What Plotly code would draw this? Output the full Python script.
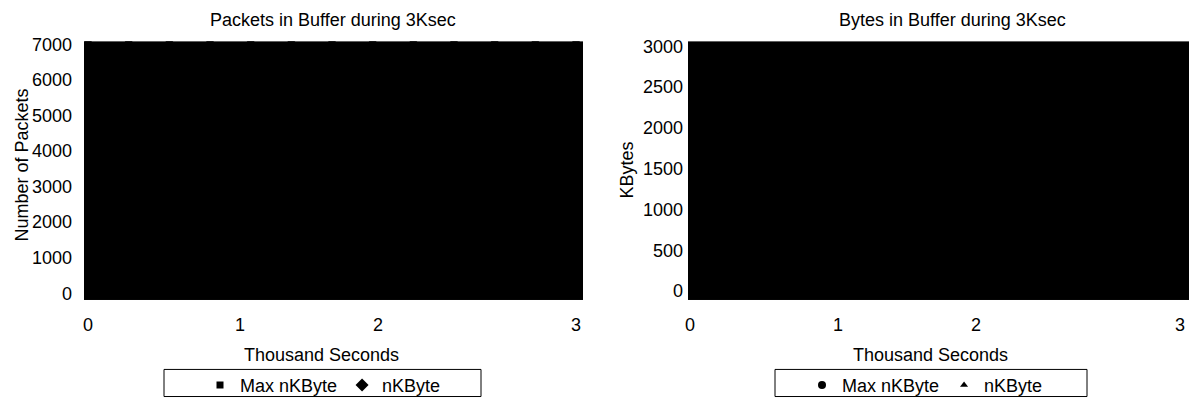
import plotly.graph_objects as go

# ---- data (the plotted points cover the whole area) ----
time_ks = [0.0, 0.25, 0.5, 0.75, 1.0, 1.25, 1.5, 1.75, 2.0, 2.25, 2.5, 2.75, 3.0]
packets_max = [7000, 7000, 7000, 7000, 7000, 7000, 7000, 7000, 7000, 7000, 7000, 7000, 7000]
packets_n = [7000, 7000, 7000, 7000, 7000, 7000, 7000, 7000, 7000, 7000, 7000, 7000, 7000]
kbytes_max = [3000, 3000, 3000, 3000, 3000, 3000, 3000, 3000, 3000, 3000, 3000, 3000, 3000]
kbytes_n = [3000, 3000, 3000, 3000, 3000, 3000, 3000, 3000, 3000, 3000, 3000, 3000, 3000]

x_tick_labels = ["0", "1", "2", "3"]
x_tick_pos_left = [0, 0.934, 1.783, 3]
x_tick_pos_right = [0, 0.906, 1.751, 3]
packets_ticks = [0, 1000, 2000, 3000, 4000, 5000, 6000, 7000]
kbytes_ticks = [0, 500, 1000, 1500, 2000, 2500, 3000]

W, H = 1197, 404
FONT = "Liberation Sans"
FS_TICK = 18
FS_TXT = 18

def px(x):
    return x / W

def py(y):
    return 1 - y / H

fig = go.Figure()

# marker series (for legends)
fig.add_trace(go.Scatter(x=time_ks, y=packets_max, xaxis="x", yaxis="y", mode="markers",
                         name="Max nKByte", legend="legend", cliponaxis=True,
                         marker=dict(symbol="square", size=7, color="black")))
fig.add_trace(go.Scatter(x=time_ks, y=packets_n, xaxis="x", yaxis="y", mode="markers",
                         name="nKByte", legend="legend", cliponaxis=True,
                         marker=dict(symbol="diamond", size=10, color="black")))
fig.add_trace(go.Scatter(x=time_ks, y=kbytes_max, xaxis="x2", yaxis="y2", mode="markers",
                         name="Max nKByte", legend="legend2", cliponaxis=True,
                         marker=dict(symbol="circle", size=8, color="black")))
fig.add_trace(go.Scatter(x=time_ks, y=kbytes_n, xaxis="x2", yaxis="y2", mode="markers",
                         name="nKByte", legend="legend2", cliponaxis=True,
                         marker=dict(symbol="triangle-up", size=7, color="black")))

# filled areas (data envelope)
for xs, ys, xa, ya in [
    (time_ks, packets_max, "x", "y"),
    (time_ks, packets_n, "x", "y"),
    (time_ks, kbytes_max, "x2", "y2"),
    (time_ks, kbytes_n, "x2", "y2"),
]:
    fig.add_trace(go.Scatter(x=xs, y=ys, xaxis=xa, yaxis=ya, mode="lines",
                             line=dict(color="black", width=0), fill="tozeroy",
                             fillcolor="black", showlegend=False, hoverinfo="skip"))

axis_common = dict(showgrid=False, zeroline=False, showline=False, ticks="", automargin=False,
                   tickfont=dict(family=FONT, size=FS_TICK, color="black"))

ydom = [py(304.5), py(42)]

fig.update_layout(
    width=W, height=H,
    margin=dict(l=0, r=0, t=0, b=0, pad=0),
    paper_bgcolor="white",
    plot_bgcolor="black",
    font=dict(family=FONT, size=FS_TXT, color="black"),
    xaxis=dict(domain=[px(84), px(583)], range=[-0.0246, 3.043], anchor="y",
               tickvals=x_tick_pos_left, ticktext=x_tick_labels,
               ticklabelstandoff=12, **axis_common),
    yaxis=dict(domain=ydom, range=[-190, 7085], anchor="x",
               tickvals=packets_ticks, ticklabelstandoff=11, **axis_common),
    xaxis2=dict(domain=[px(688), px(1189)], range=[-0.0122, 3.055], anchor="y2",
                tickvals=x_tick_pos_right, ticktext=x_tick_labels,
                ticklabelstandoff=12, **axis_common),
    yaxis2=dict(domain=ydom, range=[-108, 3060], anchor="x2",
                tickvals=kbytes_ticks, ticklabelstandoff=4, **axis_common),
    legend=dict(orientation="h", x=px(323), xanchor="center", y=py(391), yanchor="middle",
                bgcolor="rgba(0,0,0,0)", borderwidth=0, itemwidth=30,
                font=dict(family=FONT, size=FS_TXT, color="black")),
    legend2=dict(orientation="h", x=px(925), xanchor="center", y=py(391), yanchor="middle",
                 bgcolor="rgba(0,0,0,0)", borderwidth=0, itemwidth=30,
                 font=dict(family=FONT, size=FS_TXT, color="black")),
    shapes=[
        dict(type="rect", xref="paper", yref="paper", x0=px(164), x1=px(481),
             y0=py(402.5), y1=py(375), line=dict(color="black", width=1)),
        dict(type="rect", xref="paper", yref="paper", x0=px(775), x1=px(1087),
             y0=py(402.5), y1=py(375), line=dict(color="black", width=1)),
    ],
    annotations=[
        dict(text="Packets in Buffer during 3Ksec", x=px(333), y=py(20), xref="paper", yref="paper",
             showarrow=False, xanchor="center", yanchor="middle"),
        dict(text="Bytes in Buffer during 3Ksec", x=px(952), y=py(20), xref="paper", yref="paper",
             showarrow=False, xanchor="center", yanchor="middle"),
        dict(text="Thousand Seconds", x=px(321), y=py(360), xref="paper", yref="paper",
             showarrow=False, xanchor="center", yanchor="middle"),
        dict(text="Thousand Seconds", x=px(930), y=py(360), xref="paper", yref="paper",
             showarrow=False, xanchor="center", yanchor="middle"),
        dict(text="Number of Packets", x=px(22), y=py(168), xref="paper", yref="paper",
             showarrow=False, xanchor="center", yanchor="middle", textangle=-90),
        dict(text="KBytes", x=px(627), y=py(173), xref="paper", yref="paper",
             showarrow=False, xanchor="center", yanchor="middle", textangle=-90),
    ],
)

fig.write_html(
    "out.html",
    config={"displayModeBar": False},
    post_script=(
        "document.body.style.margin='0';"
        "document.body.style.overflow='hidden';"
        "document.documentElement.style.overflow='hidden';"
    ),
)
